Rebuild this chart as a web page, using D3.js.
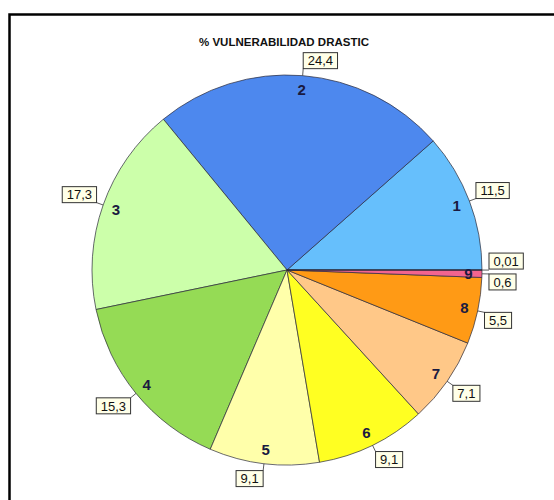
<!DOCTYPE html>
<html>
<head>
<meta charset="utf-8">
<script src="https://cdn.jsdelivr.net/npm/d3@7"></script>
<style>
  body { margin: 0; background: #fff; }
  svg { display: block; font-family: Arial, "Liberation Sans", sans-serif; }
</style>
</head>
<body>
<div id="chart"></div>
<script>
// Slice data (counter-clockwise from 3 o'clock)
const classes = ['1', '2', '3', '4', '5', '6', '7', '8', '9', ''];
const values = [11.5, 24.4, 17.3, 15.3, 9.1, 9.1, 7.1, 5.5, 0.6, 0.01];
const valueLabels = ['11,5', '24,4', '17,3', '15,3', '9,1', '9,1', '7,1', '5,5', '0,6', '0,01'];
const colors = ['#66BFFC', '#4D88EE', '#CCFFAA', '#95DB55', '#FFFFAA',
                '#FFFF22', '#FFC888', '#FF9A15', '#F2648F', '#F2648F'];
const title = '% VULNERABILIDAD DRASTIC';

const width = 554, height = 500;
const cx = 287, cy = 270, radius = 195;

const svg = d3.select('#chart')
    .append('svg')
    .attr('width', width)
    .attr('height', height);

// Frame around the chart
svg.append('rect')
    .attr('x', 9.5)
    .attr('y', 14.5)
    .attr('width', 600)
    .attr('height', 600)
    .attr('fill', '#fff')
    .attr('stroke', '#000')
    .attr('stroke-width', 2.5);

// Title
svg.append('text')
    .attr('x', 284)
    .attr('y', 46)
    .attr('text-anchor', 'middle')
    .attr('font-size', 11.5)
    .attr('font-weight', 'bold')
    .attr('fill', '#111')
    .text(title);

const g = svg.append('g')
    .attr('transform', 'translate(' + cx + ',' + cy + ')');

const pie = d3.pie()
    .sort(null)
    .value(d => d)
    .startAngle(Math.PI / 2)
    .endAngle(Math.PI / 2 - 2 * Math.PI);

const arcs = pie(values);

const arcGen = d3.arc()
    .innerRadius(0)
    .outerRadius(radius);

// Slices
g.selectAll('.slice')
    .data(arcs)
    .join('path')
    .attr('class', 'slice')
    .attr('d', arcGen)
    .attr('fill', (d, i) => colors[i])
    .attr('stroke', '#2a2a3a')
    .attr('stroke-width', 0.7);

const midAngle = d => (d.startAngle + d.endAngle) / 2;
const polar = (a, r) => [Math.sin(a) * r, -Math.cos(a) * r];

// Class numbers inside slices
g.selectAll('.num')
    .data(arcs)
    .join('text')
    .attr('class', 'num')
    .attr('x', d => polar(midAngle(d), radius * 0.93)[0])
    .attr('y', d => polar(midAngle(d), radius * 0.93)[1])
    .attr('dy', '0.36em')
    .attr('text-anchor', 'middle')
    .attr('font-size', 15)
    .attr('font-weight', 'bold')
    .attr('fill', '#1a1a40')
    .text((d, i) => classes[i]);

// Value boxes with leader lines
const placed = [];
arcs.forEach((d, i) => {
    const a = midAngle(d);
    const [ex, ey] = polar(a, radius);
    const [px, py] = polar(a, radius + 7);

    const lab = g.append('g');
    const txt = lab.append('text')
        .attr('font-size', 13)
        .attr('fill', '#111')
        .text(valueLabels[i]);
    const w = txt.node().getComputedTextLength() + 9;
    const h = 16;

    const right = Math.sin(a) >= 0;
    let above = Math.cos(a) > 0;
    let bx = right ? px : px - w;
    let by = above ? py - h : py;

    // flip vertically if it collides with an earlier box
    const hits = b => placed.some(p =>
        b.x < p.x + p.w && b.x + w > p.x && b.y < p.y + p.h && b.y + h > p.y);
    if (hits({ x: bx, y: by })) {
        above = !above;
        by = above ? py - h - 1 : py + 1;
    }
    placed.push({ x: bx, y: by, w: w, h: h });

    g.insert('line', 'g')
        .attr('x1', ex).attr('y1', ey)
        .attr('x2', px).attr('y2', py)
        .attr('stroke', '#333')
        .attr('stroke-width', 0.8);

    lab.insert('rect', 'text')
        .attr('x', bx)
        .attr('y', by)
        .attr('width', w)
        .attr('height', h)
        .attr('fill', '#FFFFE8')
        .attr('stroke', '#333')
        .attr('stroke-width', 1);

    txt.attr('x', bx + w / 2)
        .attr('y', by + h / 2)
        .attr('dy', '0.36em')
        .attr('text-anchor', 'middle');
});
</script>
</body>
</html>
